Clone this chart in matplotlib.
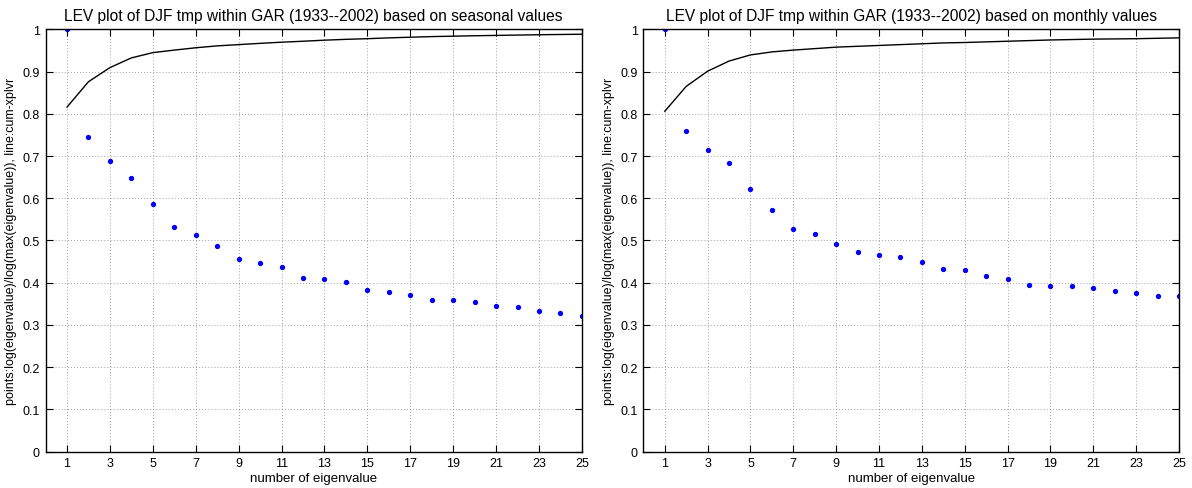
"""LEV plots of DJF temperature eigenvalues (seasonal vs monthly)."""
import numpy as np
import matplotlib
matplotlib.use('Agg')
import matplotlib.pyplot as plt

plt.rcParams['font.family'] = ['Liberation Sans', 'DejaVu Sans']

n_eig = np.arange(1, 26)

# normalised log eigenvalues (points) and cumulative explained variance (line)
lev_seasonal = [1.000, 0.745, 0.689, 0.649, 0.586, 0.533, 0.512, 0.488, 0.455, 0.446,
                0.438, 0.412, 0.409, 0.401, 0.383, 0.378, 0.371, 0.360, 0.358, 0.355,
                0.345, 0.343, 0.334, 0.327, 0.322]
cum_seasonal = [0.816, 0.876, 0.9095, 0.9325, 0.945, 0.951, 0.9565, 0.961, 0.964, 0.967,
                0.9697, 0.972, 0.9745, 0.9765, 0.978, 0.980, 0.9815, 0.983, 0.984, 0.985,
                0.9858, 0.9866, 0.9874, 0.988, 0.9886]

lev_monthly = [1.000, 0.760, 0.714, 0.683, 0.623, 0.573, 0.527, 0.515, 0.491, 0.472,
               0.465, 0.462, 0.449, 0.433, 0.429, 0.417, 0.409, 0.395, 0.392, 0.391,
               0.387, 0.380, 0.375, 0.369, 0.368]
cum_monthly = [0.806, 0.865, 0.901, 0.925, 0.9396, 0.9467, 0.951, 0.9545, 0.958, 0.960,
               0.962, 0.964, 0.966, 0.968, 0.969, 0.9705, 0.972, 0.9735, 0.975, 0.976,
               0.977, 0.9775, 0.978, 0.979, 0.980]

titles = ['LEV plot of DJF tmp within GAR (1933--2002) based on seasonal values',
          'LEV plot of DJF tmp within GAR (1933--2002) based on monthly values']
xticks = list(range(1, 26, 2))
yticks = [round(0.1 * i, 1) for i in range(11)]
ylab = 'points:log(eigenvalue)/log(max(eigenvalue)), line:cum-xplvr'

fig = plt.figure(figsize=(11.92, 4.89), dpi=100)
rects = [(0.0382, 0.0746, 0.4500, 0.8632), (0.5397, 0.0746, 0.4494, 0.8632)]

for rect, lev, cum, title in zip(rects, [lev_seasonal, lev_monthly],
                                 [cum_seasonal, cum_monthly], titles):
    ax = fig.add_axes(rect)
    ax.plot(n_eig, cum, color='black', linewidth=1.0)
    ax.plot(n_eig, lev, linestyle='none', marker='o', markersize=2.8,
            markerfacecolor='#0000ff', markeredgecolor='#0000ff')
    ax.set_xlim(0, 25)
    ax.set_ylim(0, 1)
    ax.set_xticks(xticks)
    ax.set_yticks(yticks)
    ax.set_yticklabels(['0'] + [f'{v:g}' for v in yticks[1:]])
    ax.tick_params(direction='in', top=True, right=True, length=5, width=0.8,
                   labelsize=9, pad=4)
    ax.grid(True, linestyle=(0, (1, 3)), color='#666666', linewidth=0.55)
    for sp in ax.spines.values():
        sp.set_linewidth(1.0)
    ax.set_title(title, fontsize=11.2, pad=7)
    ax.set_xlabel('number of eigenvalue', fontsize=9.5, labelpad=2)
    ax.set_ylabel(ylab, fontsize=9, labelpad=4)

fig.savefig('out.png', dpi=100)
